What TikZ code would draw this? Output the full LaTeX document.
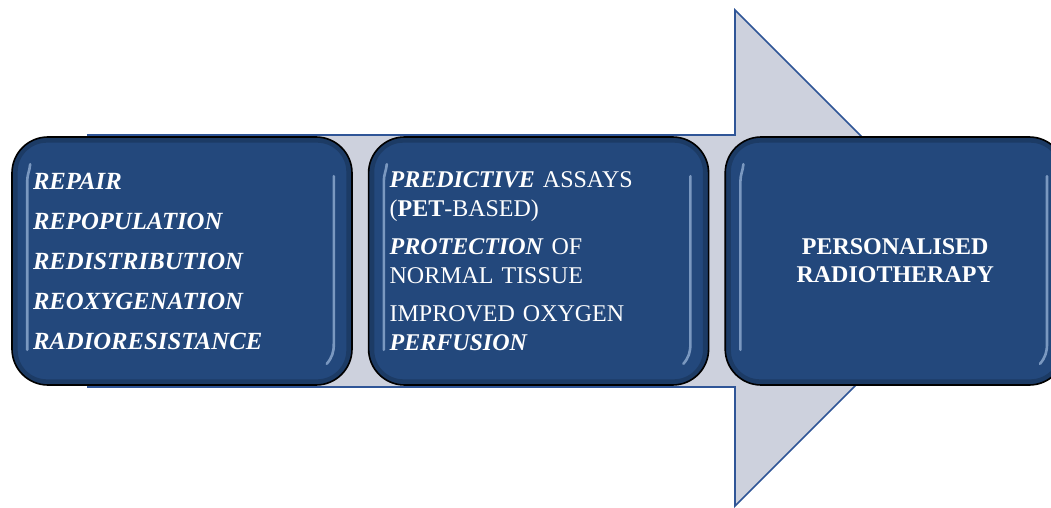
\documentclass[tikz,border=0pt]{standalone}
\usepackage{fontspec}
\setmainfont{Liberation Serif}
\usetikzlibrary{positioning}

\definecolor{boxblue}{RGB}{35,72,124}
\definecolor{arrowfill}{RGB}{205,209,221}
\definecolor{arrowline}{RGB}{47,85,151}
\definecolor{shine}{RGB}{195,218,248}

\begin{document}
\begin{tikzpicture}[x=1pt,y=-1pt,
	stage/.style={draw=black,line width=1.6pt,fill=boxblue,rounded corners=36pt,
		minimum width=340pt,minimum height=248pt,text=white,inner xsep=21pt,
		text width=298pt,align=left},
	gloss/.style={shine,opacity=0.55,line width=2.6pt,line cap=round},
	rim/.style={black,opacity=0.18,line width=6pt,rounded corners=32pt}]
	\useasboundingbox (0,0) rectangle (1051,508);
	% big arrow behind the boxes
	\draw[arrowline,line width=1.6pt,fill=arrowfill,line join=miter]
	(88,135) -- (735,135) -- (735,10) -- (983,258) -- (735,506) -- (735,387) -- (88,387) -- cycle;
	% the three stages
	\node[stage,font=\fontsize{24.7}{40}\selectfont\bfseries\itshape] (rep) at (182,261)
	{REPAIR\\REPOPULATION\\REDISTRIBUTION\\REOXYGENATION\\RADIORESISTANCE};
	\node[stage,right=15pt of rep,font=\fontsize{24}{29}\selectfont] (pred)
	{\textbf{\textit{PREDICTIVE}} ASSAYS\\(\textbf{PET}-BASED)\\[9pt]
		\textbf{\textit{PROTECTION}} OF\\NORMAL TISSUE\\[9pt]
		IMPROVED OXYGEN\\\textbf{\textit{PERFUSION}}};
	\node[stage,right=15pt of pred,align=center,font=\fontsize{24}{28}\selectfont\bfseries] (pers)
	{PERSONALISED\\RADIOTHERAPY};
	% glossy look of the boxes
	\foreach \b in {rep,pred,pers} {
		\draw[rim] ([shift={(3.5pt,-3.5pt)}]\b.north west) rectangle ([shift={(-3.5pt,3.5pt)}]\b.south east);
		\draw[gloss] ([shift={(19pt,-28pt)}]\b.north west) to[out=-95,in=90] ([shift={(16pt,-45pt)}]\b.north west)
		-- ([shift={(16pt,36pt)}]\b.south west);
		\draw[gloss] ([shift={(-19pt,-40pt)}]\b.north east) -- ([shift={(-19pt,42pt)}]\b.south east)
		to[out=-90,in=50] ([shift={(-26pt,22pt)}]\b.south east);
	}
\end{tikzpicture}
\end{document}
